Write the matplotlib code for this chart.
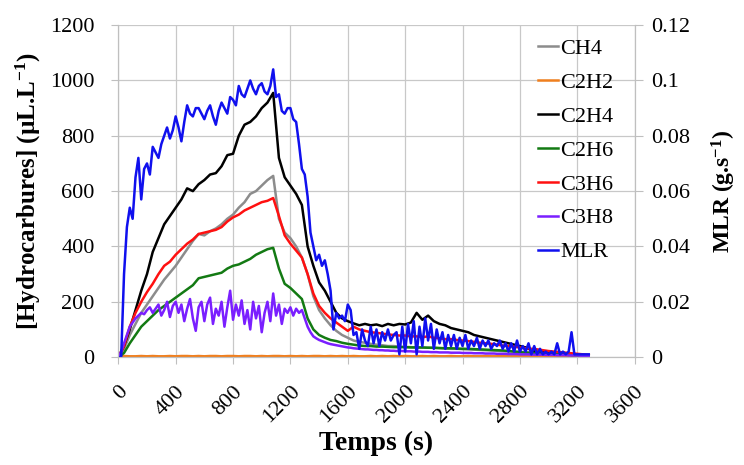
import numpy as np
import matplotlib
matplotlib.use("Agg")
import matplotlib.pyplot as plt
from matplotlib.ticker import FuncFormatter

plt.rcParams['font.family'] = ['Liberation Serif', 'DejaVu Serif']
plt.rcParams['mathtext.fontset'] = 'custom'
plt.rcParams['mathtext.rm'] = 'Liberation Serif'
plt.rcParams['mathtext.bf'] = 'Liberation Serif:bold'

# gas series sampled every 40 s, C3H8 and MLR every 20 s
t_gas = np.arange(0, 3300, 40)
t_fine = np.arange(0, 3300, 20)

ch4 = [0, 30, 80, 120, 160, 190, 220, 250, 280, 305,
       330, 360, 390, 420, 445, 440, 455, 465, 480, 500,
       515, 540, 560, 590, 600, 620, 640, 655, 500, 450,
       430, 400, 360, 300, 220, 170, 140, 115, 95, 80,
       70, 60, 55, 52, 48, 45, 43, 40, 40, 38,
       37, 36, 35, 34, 34, 33, 32, 31, 30, 30,
       29, 28, 27, 26, 25, 24, 23, 22, 21, 20,
       19, 18, 17, 16, 15, 14, 13, 12, 11, 10,
       9, 8, 7]
c2h2 = [3, 4, 3, 3, 4, 3, 4, 3, 3, 4,
        3, 4, 4, 3, 4, 3, 4, 4, 3, 4,
        4, 3, 4, 4, 3, 4, 3, 4, 4, 3,
        4, 3, 4, 3, 4, 4, 3, 4, 3, 4,
        3, 4, 3, 3, 4, 3, 4, 3, 4, 3,
        4, 3, 3, 4, 3, 4, 3, 3, 4, 3,
        3, 4, 3, 3, 4, 3, 3, 4, 3, 3,
        4, 3, 3, 3, 4, 3, 3, 3, 4, 3,
        3, 3, 3]
c2h4 = [0, 40, 100, 170, 240, 300, 380, 430, 480, 510,
        540, 570, 610, 600, 625, 640, 660, 665, 690, 730,
        735, 800, 840, 850, 870, 900, 920, 955, 720, 650,
        620, 590, 550, 400, 330, 270, 240, 200, 160, 140,
        130, 122, 115, 120, 115, 118, 112, 120, 115, 120,
        118, 125, 160, 135, 150, 130, 120, 115, 105, 100,
        95, 90, 80, 75, 70, 65, 60, 55, 50, 45,
        40, 35, 25, 20, 18, 15, 12, 10, 10, 8,
        8, 6, 5]
c2h6 = [0, 15, 50, 80, 110, 130, 150, 170, 185, 200,
        215, 230, 245, 260, 285, 290, 295, 300, 305, 320,
        330, 335, 345, 355, 370, 380, 390, 395, 320, 265,
        250, 230, 210, 140, 100, 80, 70, 62, 58, 52,
        48, 45, 42, 40, 40, 38, 38, 37, 36, 36,
        36, 35, 35, 35, 34, 34, 33, 32, 32, 31,
        30, 30, 29, 28, 27, 26, 25, 24, 22, 20,
        18, 16, 15, 14, 13, 12, 11, 10, 9, 8,
        7, 6, 5]
c3h6 = [0, 40, 110, 160, 200, 235, 265, 300, 330, 345,
        370, 390, 410, 425, 445, 450, 455, 460, 470, 490,
        505, 515, 530, 540, 550, 560, 565, 575, 510, 440,
        410, 385, 360, 300, 230, 185, 160, 140, 125, 110,
        95, 110, 100, 95, 90, 88, 85, 82, 80, 78,
        78, 75, 75, 72, 75, 70, 68, 65, 65, 62,
        60, 58, 55, 52, 50, 48, 45, 42, 40, 38,
        35, 32, 30, 28, 25, 22, 20, 18, 16, 14,
        12, 10, 8]
c3h8 = [0, 20, 50, 80, 110, 125, 140, 150, 160, 155,
        170, 180, 160, 175, 190, 150, 170, 200, 145, 185,
        200, 160, 190, 130, 175, 210, 140, 95, 180, 200,
        130, 190, 215, 120, 175, 150, 200, 110, 180, 240,
        135, 190, 150, 205, 120, 170, 100, 200, 140, 185,
        90, 160, 200, 130, 230, 150, 190, 120, 175, 160,
        180, 150, 175, 160, 170, 140, 110, 90, 75, 68,
        62, 58, 54, 50, 47, 45, 43, 41, 39, 37,
        35, 34, 32, 31, 30, 29, 28, 28, 27, 26,
        26, 25, 25, 24, 24, 23, 23, 22, 22, 22,
        21, 21, 21, 20, 20, 20, 19, 19, 19, 18,
        18, 18, 17, 17, 17, 17, 16, 16, 16, 16,
        15, 15, 15, 15, 14, 14, 14, 14, 13, 13,
        13, 13, 12, 12, 12, 12, 11, 11, 11, 11,
        10, 10, 10, 10, 9, 9, 9, 9, 9, 8,
        8, 8, 8, 7, 7, 7, 7, 6, 6, 6,
        6, 5, 5, 5, 5]
mlr = [0, 0.0, 0.030, 0.047, 0.054, 0.050, 0.065, 0.072, 0.057, 0.068,
       0.070, 0.066, 0.076, 0.074, 0.072, 0.077, 0.080, 0.083, 0.079, 0.082,
       0.087, 0.083, 0.078, 0.085, 0.091, 0.088, 0.087, 0.090, 0.090, 0.088,
       0.086, 0.089, 0.091, 0.087, 0.084, 0.089, 0.092, 0.090, 0.088, 0.094,
       0.093, 0.091, 0.098, 0.095, 0.094, 0.097, 0.100, 0.097, 0.095, 0.098,
       0.099, 0.096, 0.095, 0.098, 0.104, 0.094, 0.095, 0.089, 0.088, 0.090,
       0.090, 0.086, 0.085, 0.077, 0.068, 0.066, 0.058, 0.045, 0.040, 0.035,
       0.037, 0.033, 0.035, 0.030, 0.024, 0.010, 0.016, 0.014, 0.015, 0.013,
       0.019, 0.017, 0.008, 0.009, 0.003, 0.010, 0.006, 0.004, 0.011, 0.005,
       0.010, 0.004, 0.009, 0.006, 0.010, 0.006, 0.008, 0.009, 0.001, 0.011,
       0.002, 0.012, 0.005, 0.013, 0.001, 0.011, 0.004, 0.014, 0.006, 0.012,
       0.003, 0.010, 0.005, 0.009, 0.003, 0.008, 0.004, 0.008, 0.003, 0.007,
       0.004, 0.008, 0.003, 0.006, 0.004, 0.007, 0.003, 0.006, 0.004, 0.006,
       0.003, 0.005, 0.004, 0.006, 0.003, 0.005, 0.002, 0.005, 0.002, 0.006,
       0.002, 0.004, 0.002, 0.005, 0.001, 0.004, 0.001, 0.003, 0.001, 0.002,
       0.001, 0.002, 0.001, 0.005, 0.001, 0.002, 0.001, 0.002, 0.009, 0.001,
       0.001, 0.001, 0.001, 0.001, 0.001]

fig = plt.figure(figsize=(7.44, 4.65), dpi=100)
ax = fig.add_axes([0.159, 0.232, 0.694, 0.714])
ax2 = ax.twinx()

lw = 1.8
l1, = ax.plot(t_gas, ch4, color='#8c8c8c', lw=lw, label='CH4')
l2, = ax.plot(t_gas, c2h2, color='#f07f1e', lw=lw, label='C2H2')
l3, = ax.plot(t_gas, c2h4, color='black', lw=lw, label='C2H4')
l4, = ax.plot(t_gas, c2h6, color='#137a13', lw=lw, label='C2H6')
l5, = ax.plot(t_gas, c3h6, color='#ff1010', lw=lw, label='C3H6')
l6, = ax.plot(t_fine, c3h8, color='#7a1fff', lw=lw, label='C3H8')
l7, = ax2.plot(t_fine, mlr, color='#1010ee', lw=lw, label='MLR')

ax.set_xlim(0, 3600)
ax.set_ylim(0, 1200)
ax2.set_ylim(0, 0.12)
ax.set_xticks(np.arange(0, 3601, 400))
ax.set_yticks(np.arange(0, 1201, 200))
ax2.set_yticks(np.arange(0, 0.121, 0.02))
ax2.yaxis.set_major_formatter(FuncFormatter(lambda v, p: '%g' % round(v, 3)))

ax.grid(True, color='#c8c8c8', lw=0.9)
ax.set_axisbelow(True)
for a in (ax, ax2):
    for s in a.spines.values():
        s.set_color('#bfbfbf')
    a.spines['top'].set_visible(False)
ax.tick_params(axis='both', labelsize=16, color='#bfbfbf', length=5)
ax.tick_params(axis='x', pad=13)
ax.tick_params(axis='y', pad=12)
ax2.tick_params(axis='y', labelsize=16, color='#bfbfbf', length=6, pad=6)
plt.setp(ax.get_xticklabels(), rotation=45, ha='right', rotation_mode='anchor')

ax.set_xlabel('Temps (s)', fontsize=20, fontweight='bold', labelpad=3)
ax.set_ylabel(r'[Hydrocarbures] (µL.L$\mathbf{^{-1}}$)', fontsize=18, fontweight='bold',
              labelpad=5)
ax2.set_ylabel(r'MLR (g.s$\mathbf{^{-1}}$)', fontsize=17, fontweight='bold', labelpad=14)

ax.legend(handles=[l1, l2, l3, l4, l5, l6, l7], loc='upper right',
          bbox_to_anchor=(0.985, 1.0), frameon=False, fontsize=16,
          handlelength=0.9, handletextpad=0.1, labelspacing=0.6,
          borderaxespad=0.2)

fig.savefig('out.png', dpi=100)
